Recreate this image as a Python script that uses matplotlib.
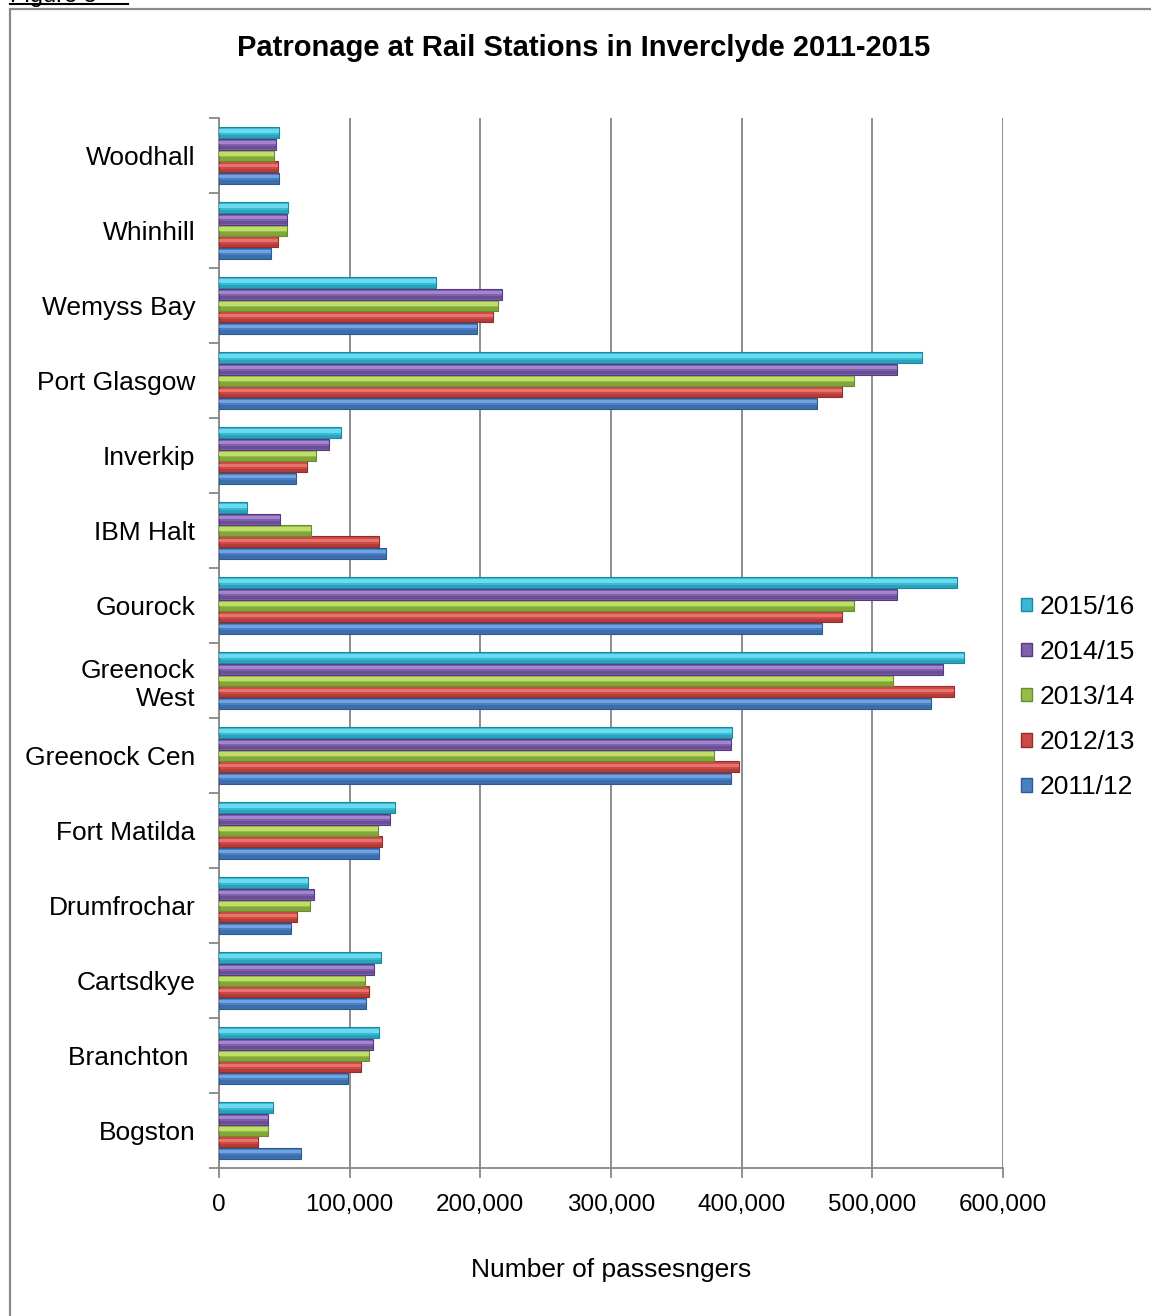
import numpy as np
import matplotlib
matplotlib.use("Agg")
import matplotlib.pyplot as plt
from matplotlib.patches import Patch, Rectangle
from matplotlib.lines import Line2D
from matplotlib.ticker import FuncFormatter

plt.rcParams["font.family"] = ["Liberation Sans", "DejaVu Sans"]

# stations listed bottom to top
stations = ["Bogston", "Branchton ", "Cartsdkye", "Drumfrochar", "Fort Matilda",
            "Greenock Cen", "Greenock\nWest", "Gourock", "IBM Halt", "Inverkip",
            "Port Glasgow", "Wemyss Bay", "Whinhill", "Woodhall"]

y2011 = [62800, 98500, 112500, 54800, 122700, 391800, 545000, 461700, 128000, 59000, 457400, 197500, 39500, 46000]
y2012 = [29600, 108400, 114500, 59700, 124700, 398000, 562500, 476600, 122700, 67600, 476600, 210000, 44800, 45000]
y2013 = [37800, 114500, 112000, 69600, 121700, 379000, 516000, 486000, 70700, 74200, 485900, 213600, 52000, 42300]
y2014 = [37800, 117900, 118900, 73000, 130900, 391800, 554000, 519000, 46900, 84400, 518800, 216700, 52200, 43800]
y2015 = [41300, 122200, 124000, 68400, 134700, 392600, 570000, 564500, 21500, 93400, 537900, 166000, 53000, 45600]

years = ["2011/12", "2012/13", "2013/14", "2014/15", "2015/16"]
series = [y2011, y2012, y2013, y2014, y2015]
# (mid, light, dark) per year
colours = [("#4a80c2", "#78aae6", "#2c5a92"),
           ("#cc4b47", "#ee7a74", "#962c29"),
           ("#96bd48", "#c6e470", "#6a8b2a"),
           ("#7f60ab", "#ab8cd6", "#553a80"),
           ("#38bad4", "#74e0f2", "#1c879f")]

fig = plt.figure(figsize=(11.51, 13.16), dpi=100)
ax = fig.add_axes([219 / 1151, 1 - 1168 / 1316, 784 / 1151, 1050 / 1316])

y = np.arange(len(stations))
pitch = 0.152
h = 0.145
for k, (vals, (mid, light, dark)) in enumerate(zip(series, colours)):
    pos = y + (k - 2) * pitch
    ax.barh(pos, vals, height=h, color=mid, edgecolor=dark, linewidth=0.8, zorder=3)
    ax.barh(pos + h * 0.15, vals, height=h * 0.3, color=light, linewidth=0, alpha=0.85, zorder=4)
    ax.barh(pos - h * 0.33, vals, height=h * 0.3, color=dark, linewidth=0, alpha=0.45, zorder=4)

ax.set_xlim(0, 600000)
ax.set_ylim(-0.5, len(stations) - 0.5)
ax.set_xticks(np.arange(0, 600001, 100000))
ax.xaxis.set_major_formatter(FuncFormatter(lambda v, p: f"{int(v):,}"))
ax.set_yticks(y)
ax.set_yticklabels(stations, fontsize=19, ha="right")
ax.set_yticks(np.arange(-0.5, len(stations), 1), minor=True)
ax.tick_params(axis="y", which="major", length=0, pad=17)
ax.tick_params(axis="y", which="minor", length=7, width=1.3, color="#888888", direction="out")
ax.tick_params(axis="x", length=7, width=1.3, color="#888888", direction="out", labelsize=17.5, pad=12)

ax.grid(axis="x", color="#8c8c8c", linewidth=1.4, zorder=0)
for s in ["top", "right"]:
    ax.spines[s].set_visible(False)
ax.spines["left"].set_color("#888888")
ax.spines["bottom"].set_color("#888888")
ax.spines["left"].set_linewidth(1.3)
ax.spines["bottom"].set_linewidth(1.3)

ax.set_xlabel("Number of passesngers", fontsize=19, labelpad=30)

fig.text(584 / 1151, 1 - 48 / 1316, "Patronage at Rail Stations in Inverclyde 2011-2015",
         ha="center", va="center", fontsize=21, fontweight="bold")

handles = [Patch(facecolor=c[0], edgecolor=c[2]) for c in colours][::-1]
ax.legend(handles, years[::-1], loc="center left", bbox_to_anchor=(997 / 1151, 1 - 697 / 1316),
          bbox_transform=fig.transFigure, frameon=False, fontsize=19,
          handlelength=0.42, handleheight=0.42, handletextpad=0.3, labelspacing=0.8)

# outer chart frame and the caption above it
fig.patches.append(Rectangle((10 / 1151, -0.1), 1.2, 1.1 - 9 / 1316, transform=fig.transFigure,
                             fill=False, edgecolor="#8a8a8a", linewidth=1.6))
fig.text(10 / 1151, 1 - 2 / 1316, "Figure 5", ha="left", va="baseline", fontsize=17)
fig.lines.append(Line2D([10 / 1151, 128 / 1151], [1 - 4 / 1316] * 2, transform=fig.transFigure,
                        color="black", linewidth=1.5))

fig.savefig("out.png", dpi=100)
